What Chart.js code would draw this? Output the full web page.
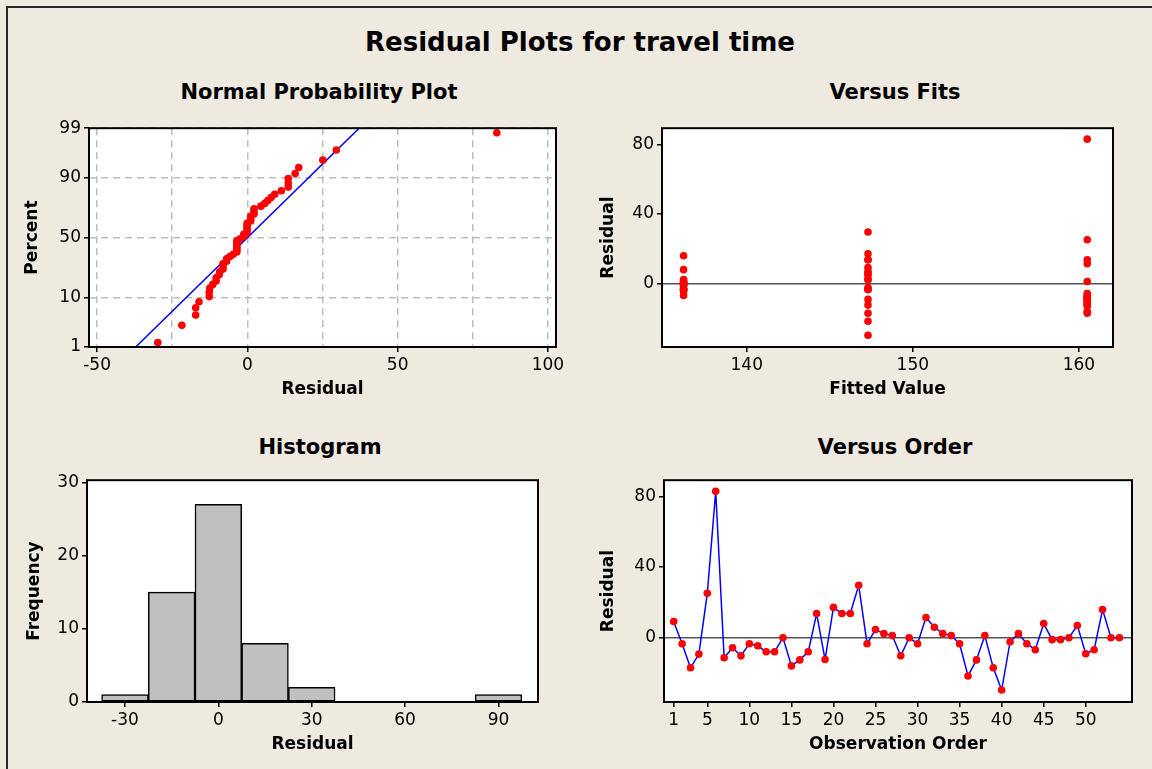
<!DOCTYPE html>
<html>
<head>
<meta charset="utf-8">
<script src="https://cdn.jsdelivr.net/npm/chart.js@4.4.0/dist/chart.umd.min.js"></script>
<style>
  html, body { margin: 0; padding: 0; }
  body { width: 1152px; height: 769px; background: #EEEAE0; position: relative; overflow: hidden; font-family: "DejaVu Sans", sans-serif; }
  .frame { position: absolute; left: 6px; top: 6px; width: 1300px; height: 900px; border-left: 2px solid #2a2a2a; border-top: 2px solid #2a2a2a; }
  .title { position: absolute; font-weight: bold; color: #000; white-space: nowrap; transform: translate(-50%, -50%); line-height: 1; }
  canvas { position: absolute; }
</style>
</head>
<body>
<div class="frame"></div>
<div class="title" style="left:580px;top:42px;font-size:26px;">Residual Plots for travel time</div>
<div class="title" style="left:319px;top:92px;font-size:21px;">Normal Probability Plot</div>
<div class="title" style="left:895px;top:92px;font-size:21px;">Versus Fits</div>
<div class="title" style="left:320px;top:447px;font-size:21px;">Histogram</div>
<div class="title" style="left:895px;top:447px;font-size:21px;">Versus Order</div>

<canvas id="npp" width="570" height="287" style="left:10px;top:115px"></canvas>
<canvas id="fits" width="560" height="287" style="left:590px;top:115px"></canvas>
<canvas id="hist" width="560" height="290" style="left:10px;top:467px"></canvas>
<canvas id="order" width="560" height="290" style="left:590px;top:467px"></canvas>

<script>
// residuals in observation order (1..54)
const residuals = [9.1, -3.5, -17.2, -9.4, 25.1, 83.0, -11.5, -5.8, -10.4, -3.5,
  -4.7, -8.1, -8.1, -0.1, -16.1, -12.7, -8.1, 13.6, -12.5, 17.1,
  13.6, 13.6, 29.6, -3.5, 4.5, 2.2, 1.1, -10.4, -0.1, -3.5,
  11.3, 5.8, 2.2, 1.1, -3.5, -21.8, -12.7, 1.1, -17.2, -29.8,
  -2.4, 2.2, -3.5, -6.9, 7.9, -1.2, -1.2, -0.1, 6.8, -9.2,
  -6.9, 15.9, -0.1, -0.1];

// which fitted group each observation belongs to (1, 2, 3)
const fitGroup = [2, 2, 3, 3, 3, 3, 3, 3, 3, 2,
  1, 3, 3, 1, 3, 3, 3, 3, 2, 2,
  2, 2, 2, 1, 2, 2, 3, 3, 1, 1,
  3, 2, 2, 1, 1, 2, 3, 1, 2, 2,
  2, 1, 1, 3, 1, 1, 1, 1, 2, 2,
  1, 1, 1, 1];
const groupFits = [136.2, 147.3, 160.5];

// histogram bins
const histCenters = [-30, -15, 0, 15, 30, 45, 60, 75, 90];
const histCounts = [1, 15, 27, 8, 2, 0, 0, 0, 1];

// tick labels
const percentTicks = [1, 10, 50, 90, 99];
const nppResidTicks = [-50, -25, 0, 25, 50, 75, 100];
const residTicks = [0, 40, 80];
const fitTicks = [140, 150, 160];
const histXTicks = [-30, 0, 30, 60, 90];
const histYTicks = [0, 10, 20, 30];
const orderTicks = [1, 5, 10, 15, 20, 25, 30, 35, 40, 45, 50];

// inverse normal cdf (Acklam)
function normInv(p) {
  const a = [-3.969683028665376e+01, 2.209460984245205e+02, -2.759285104469687e+02, 1.383577518672690e+02, -3.066479806614716e+01, 2.506628277459239e+00];
  const b = [-5.447609879822406e+01, 1.615858368580409e+02, -1.556989798598866e+02, 6.680131188771972e+01, -1.328068155288572e+01];
  const c = [-7.784894002430293e-03, -3.223964580411365e-01, -2.400758277161838e+00, -2.549732539343734e+00, 4.374664141464968e+00, 2.938163982698783e+00];
  const d = [7.784695709041462e-03, 3.224671290700398e-01, 2.445134137142996e+00, 3.754408661907416e+00];
  const pl = 0.02425;
  let q, r;
  if (p < pl) {
    q = Math.sqrt(-2 * Math.log(p));
    return (((((c[0]*q+c[1])*q+c[2])*q+c[3])*q+c[4])*q+c[5]) / ((((d[0]*q+d[1])*q+d[2])*q+d[3])*q+1);
  }
  if (p > 1 - pl) {
    q = Math.sqrt(-2 * Math.log(1 - p));
    return -(((((c[0]*q+c[1])*q+c[2])*q+c[3])*q+c[4])*q+c[5]) / ((((d[0]*q+d[1])*q+d[2])*q+d[3])*q+1);
  }
  q = p - 0.5; r = q * q;
  return (((((a[0]*r+a[1])*r+a[2])*r+a[3])*r+a[4])*r+a[5])*q / (((((b[0]*r+b[1])*r+b[2])*r+b[3])*r+b[4])*r+1);
}

Chart.defaults.font.family = '"DejaVu Sans", sans-serif';
Chart.defaults.font.size = 17;
Chart.defaults.color = '#000';
Chart.defaults.animation = false;

const RED = '#FF0000';
const BLUE = '#0000FF';
const tickFont = { size: 17 };
const axisTitleFont = { size: 17, weight: 'bold' };

// white plot area and black box round it
const panelFrame = {
  id: 'panelFrame',
  beforeDraw(chart) {
    const a = chart.chartArea, ctx = chart.ctx;
    ctx.save();
    ctx.fillStyle = '#fff';
    ctx.fillRect(a.left, a.top, a.right - a.left, a.bottom - a.top);
    ctx.restore();
  },
  afterDraw(chart) {
    const a = chart.chartArea, ctx = chart.ctx;
    ctx.save();
    ctx.strokeStyle = '#000';
    ctx.lineWidth = 2;
    ctx.strokeRect(a.left, a.top, a.right - a.left, a.bottom - a.top);
    ctx.restore();
  }
};

function xAxis(o) {
  return {
    type: 'linear', position: 'bottom', min: o.min, max: o.max, offset: false,
    afterBuildTicks: s => { s.ticks = o.ticks.map(v => ({ value: v })); },
    afterFit: s => { s.height = 55; },
    border: { display: false, dash: o.dash || [] },
    grid: {
      offset: false,
      drawOnChartArea: !!o.gridColor,
      color: o.gridColor || 'rgba(0,0,0,0)',
      lineWidth: 1.5,
      tickLength: 5, tickWidth: 1.5,
      tickColor: o.tickColor || '#000'
    },
    ticks: { font: tickFont, padding: 3, maxRotation: 0, autoSkip: false, callback: o.label || (v => String(v)) },
    title: { display: true, text: o.title, font: axisTitleFont, padding: { top: 0, bottom: 1.8 } }
  };
}

function yAxis(o) {
  return {
    type: 'linear', position: 'left', min: o.min, max: o.max,
    afterBuildTicks: s => { s.ticks = o.ticks.map(v => ({ value: v })); },
    afterFit: s => { s.width = o.width; },
    border: { display: false, dash: o.dash || [] },
    grid: {
      drawOnChartArea: !!o.gridColor,
      color: o.gridColor || 'rgba(0,0,0,0)',
      lineWidth: 1.5,
      tickLength: 5, tickWidth: 1.5, tickColor: '#000'
    },
    ticks: { font: tickFont, padding: 3, autoSkip: false, callback: o.label || (v => String(v)) },
    title: { display: true, text: o.title, font: axisTitleFont, padding: { top: o.titlePad, bottom: 0 } }
  };
}

const common = {
  responsive: false,
  devicePixelRatio: 1,
  plugins: { legend: { display: false }, tooltip: { enabled: false } }
};

// ---- Normal probability plot ----
const n = residuals.length;
const sorted = residuals.slice().sort((a, b) => a - b);
const nppPoints = sorted.map((v, i) => ({ x: v, y: normInv((i + 1 - 0.3) / (n + 0.4)) }));
const mean = residuals.reduce((s, v) => s + v, 0) / n;
const sd = Math.sqrt(residuals.reduce((s, v) => s + (v - mean) * (v - mean), 0) / (n - 1));
const zLo = normInv(percentTicks[0] / 100);
const zHi = normInv(percentTicks[percentTicks.length - 1] / 100);
const fitLine = [{ x: mean + sd * zLo, y: zLo }, { x: mean + sd * zHi, y: zHi }];

new Chart(document.getElementById('npp'), {
  type: 'scatter',
  data: {
    datasets: [
      { data: nppPoints, pointRadius: 3.8, pointBackgroundColor: RED, pointBorderWidth: 0, pointBorderColor: RED },
      { data: fitLine, showLine: true, borderColor: BLUE, borderWidth: 1.5, pointRadius: 0 }
    ]
  },
  options: Object.assign({}, common, {
    layout: { padding: { top: 12, right: 24, bottom: 0, left: 0 } },
    scales: {
      x: xAxis({
        min: -52.7, max: 102.7, ticks: nppResidTicks, title: 'Residual',
        gridColor: '#BDBDBD', dash: [7, 5],
        tickColor: ctx => (ctx.tick && ctx.tick.value % 50 === 0) ? '#000' : 'rgba(0,0,0,0)',
        label: v => (v % 50 === 0 ? String(v) : '')
      }),
      y: yAxis({
        min: zLo, max: zHi, ticks: percentTicks.map(p => normInv(p / 100)),
        title: 'Percent', width: 79, titlePad: 12.8,
        gridColor: '#BDBDBD', dash: [7, 5],
        label: (v, i) => String(percentTicks[i])
      })
    }
  }),
  plugins: [panelFrame]
});

// ---- Versus fits ----
const fitsPoints = residuals.map((r, i) => ({ x: groupFits[fitGroup[i] - 1], y: r }));
const zeroLine = ctx => (ctx.tick && ctx.tick.value === 0) ? '#555' : 'rgba(0,0,0,0)';

new Chart(document.getElementById('fits'), {
  type: 'scatter',
  data: {
    datasets: [{ data: fitsPoints, pointRadius: 3.8, pointBackgroundColor: RED, pointBorderWidth: 0, pointBorderColor: RED }]
  },
  options: Object.assign({}, common, {
    layout: { padding: { top: 12, right: 37, bottom: 0, left: 0 } },
    scales: {
      x: xAxis({ min: 134.9, max: 162.05, ticks: fitTicks, title: 'Fitted Value' }),
      y: yAxis({ min: -36.6, max: 89.3, ticks: residTicks, title: 'Residual', width: 72, titlePad: 8.8, gridColor: zeroLine })
    }
  }),
  plugins: [panelFrame]
});

// ---- Histogram ----
new Chart(document.getElementById('hist'), {
  type: 'bar',
  data: {
    datasets: [{
      data: histCenters.map((c, i) => ({ x: c, y: histCounts[i] })),
      backgroundColor: '#C0C0C0', borderColor: '#000', borderWidth: 1.5, borderSkipped: false,
      barPercentage: 1, categoryPercentage: 1
    }]
  },
  options: Object.assign({}, common, {
    layout: { padding: { top: 12, right: 32, bottom: 0, left: 0 } },
    scales: {
      x: xAxis({ min: -42.2, max: 102.7, ticks: histXTicks, title: 'Residual' }),
      y: yAxis({ min: 0, max: 30.3, ticks: histYTicks, title: 'Frequency', width: 77, titlePad: 14.3 })
    }
  }),
  plugins: [panelFrame]
});

// ---- Versus order ----
new Chart(document.getElementById('order'), {
  type: 'line',
  data: {
    datasets: [{
      data: residuals.map((r, i) => ({ x: i + 1, y: r })),
      borderColor: BLUE, borderWidth: 1.5, tension: 0,
      pointRadius: 3.8, pointBackgroundColor: RED, pointBorderWidth: 0, pointBorderColor: RED
    }]
  },
  options: Object.assign({}, common, {
    layout: { padding: { top: 12, right: 18, bottom: 0, left: 0 } },
    scales: {
      x: xAxis({ min: -0.15, max: 55.5, ticks: orderTicks, title: 'Observation Order' }),
      y: yAxis({ min: -36.6, max: 89.3, ticks: residTicks, title: 'Residual', width: 74, titlePad: 8.8, gridColor: zeroLine })
    }
  }),
  plugins: [panelFrame]
});
</script>
</body>
</html>
